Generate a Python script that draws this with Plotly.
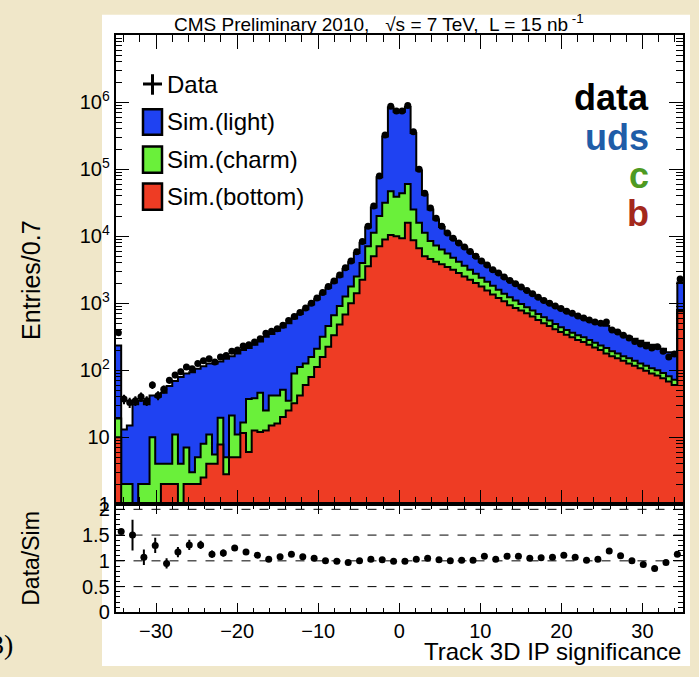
import numpy as np
import plotly.graph_objects as go

W, H = 699, 677

# entries per 0.7 bin, 100 bins from -35 to 35
data_counts = [363, 37, 33, 35, 40, 35, 60, 42, 52, 71,
               85, 95, 112, 105, 126, 138, 148, 132, 158, 166,
               191, 200, 229, 240, 263, 295, 355, 380, 417, 468,
               550, 631, 724, 851, 1000, 1200, 1445, 1778, 2138, 2630,
               3388, 4266, 5888, 8318, 14100, 28200, 79400, 324000, 871000, 741000,
               741000, 891000, 363000, 100000, 43650, 26300, 18600, 14100, 11200, 9330,
               7940, 6920, 5890, 5010, 4270, 3720, 3160, 2820, 2455, 2188,
               1950, 1738, 1549, 1380, 1230, 1096, 1000, 912, 832, 759,
               708, 646, 603, 562, 525, 501, 525, 398, 372, 331,
               302, 269, 245, 229, 214, 224, 191, 158, 174, 2291]

# stack tops: light+charm+bottom, charm+bottom, bottom
sim_total = [234, 13, 15, 31, 35, 31, 42, 40, 46, 58,
             69, 79, 89, 93, 105, 115, 126, 126, 135, 148,
             162, 178, 200, 214, 240, 269, 316, 347, 389, 437,
             501, 589, 692, 813, 955, 1148, 1380, 1698, 2042, 2512,
             3236, 4074, 5623, 7943, 13490, 26900, 75860, 309000, 832000, 724000,
             724000, 851000, 347000, 95500, 41700, 25100, 17800, 13780, 10940, 9120,
             7760, 6760, 5755, 4895, 4170, 3635, 3090, 2755, 2400, 2140,
             1905, 1700, 1515, 1350, 1200, 1070, 977, 891, 813, 741,
             692, 631, 589, 549, 513, 490, 460, 400, 365, 330,
             316, 295, 275, 257, 240, 224, 209, 186, 166, 2042]

sim_charm_bottom = [19, 2, 2, 0, 2, 2, 10, 4, 4, 4,
                    11, 4, 7, 3, 5, 8, 11, 5.5, 19.5, 5,
                    21, 11, 16.6, 37, 38, 46, 25, 42, 42, 51,
                    35, 89, 112, 126, 158, 209, 316, 457, 661, 912,
                    1259, 1778, 2512, 3981, 7079, 11220, 19950, 31600, 46800, 38900,
                    43650, 60260, 25120, 15850, 11220, 8510, 7240, 6310, 5500, 4790,
                    4170, 3630, 3160, 2750, 2400, 2090, 1820, 1585, 1380, 1230,
                    1096, 977, 871, 776, 692, 617, 550, 490, 437, 398,
                    363, 331, 309, 282, 257, 234, 214, 191, 178, 162,
                    151, 138, 126, 117, 107, 100, 91, 81, 72, 794]

sim_bottom = [10, 0, 0, 0, 0, 0, 0, 0, 2, 2,
              2, 0, 2, 2, 2, 2.5, 4, 4, 7.8, 2.8,
              5, 5, 11.5, 6, 12.6, 12, 12.6, 15, 16, 20,
              25, 32, 42, 60, 79, 112, 158, 224, 331, 479,
              676, 1000, 1413, 2239, 3548, 5012, 7079, 8913, 10470, 10000,
              9330, 15850, 8710, 6610, 5010, 4570, 4170, 3800, 3470, 3160,
              2820, 2510, 2240, 2000, 1780, 1550, 1350, 1200, 1070, 933,
              851, 776, 708, 631, 562, 501, 457, 407, 372, 339,
              309, 282, 263, 240, 219, 200, 178, 162, 151, 138,
              126, 117, 107, 98, 89, 83, 76, 68, 60, 759]

# data/sim in 1.4-wide bins
ratio = [1.57, 1.5, 1.07, 1.3, 0.95, 1.17, 1.31, 1.31, 1.13, 1.15,
         1.25, 1.17, 1.11, 1.03, 1.08, 1.13, 1.08, 1.05, 1.0, 0.99,
         0.97, 1.0, 1.03, 1.02, 0.99, 0.99, 1.03, 1.05, 1.02, 1.0,
         1.01, 1.01, 1.09, 1.03, 1.09, 1.09, 1.05, 1.06, 1.07, 1.11,
         1.07, 1.01, 1.03, 1.19, 1.1, 1.0, 0.93, 0.85, 0.97, 1.13]
ratio_err = [0.05, 0.3, 0.15, 0.15, 0.1, 0.1, 0.1, 0.08, 0.07, 0.07,
             0.06, 0.05, 0.04, 0.03, 0.03, 0.03, 0.02, 0.02, 0.02, 0.02,
             0.02, 0.02, 0.02, 0.02, 0.02, 0.02, 0.02, 0.02, 0.02, 0.02,
             0.02, 0.02, 0.02, 0.02, 0.02, 0.02, 0.02, 0.02, 0.02, 0.02,
             0.02, 0.02, 0.02, 0.03, 0.03, 0.03, 0.04, 0.04, 0.04, 0.03]

colors = {'light': '#1f42f2', 'charm': '#6af03a', 'bottom': '#ee3c24'}
FONT = 'Liberation Sans, Arial, sans-serif'

edges = np.linspace(-35, 35, 101)
centers = 0.5 * (edges[:-1] + edges[1:])
ratio_x = np.linspace(-34.3, 34.3, 50)


def step(vals):
    v = np.maximum(np.asarray(vals, dtype=float), 0.05)
    return np.append(v, v[-1])


def px(x):
    return x / W


def py(y):
    return 1 - y / H


fig = go.Figure()

# stacked histogram, drawn as filled step outlines
base = np.full(101, 0.01)
for vals, col in [(sim_total, colors['light']), (sim_charm_bottom, colors['charm']),
                  (sim_bottom, colors['bottom'])]:
    fig.add_trace(go.Scatter(x=edges, y=base, mode='lines', line=dict(width=0),
                             hoverinfo='skip', showlegend=False, xaxis='x', yaxis='y'))
    fig.add_trace(go.Scatter(x=edges, y=step(vals), mode='lines', line_shape='hv',
                             line=dict(color='black', width=2), fill='tonexty',
                             fillcolor=col, showlegend=False, xaxis='x', yaxis='y'))

fig.add_trace(go.Scatter(
    x=centers, y=data_counts, mode='markers',
    marker=dict(color='black', size=7),
    error_y=dict(type='data', array=np.sqrt(data_counts), color='black', thickness=2, width=0),
    showlegend=False, xaxis='x', yaxis='y'
))

fig.add_trace(go.Scatter(
    x=ratio_x, y=ratio, mode='markers',
    marker=dict(color='black', size=7),
    error_y=dict(type='data', array=ratio_err, color='black', thickness=2, width=0),
    showlegend=False, xaxis='x2', yaxis='y2'
))

xdom = [px(115.5), px(683)]
axis_common = dict(showline=True, linecolor='black', linewidth=1.5, mirror='ticks',
                   ticks='inside', tickcolor='black', showgrid=False, zeroline=False,
                   tickfont=dict(family=FONT, size=20, color='black'))

minor_log = [m * 10 ** k for k in range(7) for m in range(2, 10)]

fig.update_layout(
    width=W, height=H,
    margin=dict(l=0, r=0, t=0, b=0),
    paper_bgcolor='#f0e7c9',
    plot_bgcolor='white',
    showlegend=False,
    xaxis=dict(domain=xdom, range=[-35, 35], anchor='y', showticklabels=False,
               tick0=0, dtick=10, ticklen=14, tickwidth=1,
               minor=dict(ticks='inside', tick0=0, dtick=2, ticklen=7, tickcolor='black'),
               **axis_common),
    yaxis=dict(domain=[py(511), py(30)], type='log', range=[0, 7], anchor='x',
               tickmode='array', tickvals=[1, 10, 1e2, 1e3, 1e4, 1e5, 1e6],
               ticktext=['1', '10', '10<sup>2</sup>', '10<sup>3</sup>', '10<sup>4</sup>',
                         '10<sup>5</sup>', '10<sup>6</sup>'],
               ticklen=14, tickwidth=1,
               minor=dict(ticks='inside', tickmode='array', tickvals=minor_log,
                          ticklen=7, tickcolor='black'),
               **axis_common),
    xaxis2=dict(domain=xdom, range=[-35, 35], anchor='y2', tick0=0, dtick=10,
                ticklen=10, tickwidth=1,
                minor=dict(ticks='inside', tick0=0, dtick=2, ticklen=5, tickcolor='black'),
                **axis_common),
    yaxis2=dict(domain=[py(622), py(511)], range=[0, 2.1], anchor='x2',
                tickmode='array', tickvals=[0, 0.5, 1, 1.5, 2],
                ticktext=['0', '0.5', '1', '1.5', '2'], ticklen=10, tickwidth=1,
                minor=dict(ticks='inside', dtick=0.1, ticklen=5, tickcolor='black'),
                **axis_common),
)

shapes = [
    # white page behind the figure
    dict(type='rect', xref='paper', yref='paper', x0=px(102), x1=px(690), y0=0, y1=py(9),
         fillcolor='white', line=dict(width=0), layer='below'),
]
for lvl in [0.5, 1, 1.5, 2]:
    shapes.append(dict(type='line', xref='x2 domain', yref='y2', x0=0, x1=1, y0=lvl, y1=lvl,
                       line=dict(color='black', width=1, dash='dash')))

# legend
shapes.append(dict(type='line', xref='paper', yref='paper', x0=px(143), x1=px(162),
                   y0=py(80), y1=py(80), line=dict(color='black', width=3)))
shapes.append(dict(type='line', xref='paper', yref='paper', x0=px(152.5), x1=px(152.5),
                   y0=py(70), y1=py(91), line=dict(color='black', width=3)))
for (top, bot), col in zip([(106, 132), (144, 171), (182, 209)],
                           [colors['light'], colors['charm'], colors['bottom']]):
    shapes.append(dict(type='rect', xref='paper', yref='paper', x0=px(143), x1=px(162),
                       y0=py(bot), y1=py(top), fillcolor=col,
                       line=dict(color='black', width=2.5)))
fig.update_layout(shapes=shapes)


def ann(text, x, y, size, color='black', xanchor='center', angle=0, bold=False, family=FONT):
    if bold:
        text = '<b>' + text + '</b>'
    return dict(text=text, x=px(x), y=py(y), xref='paper', yref='paper', showarrow=False,
                xanchor=xanchor, yanchor='middle', textangle=angle,
                font=dict(family=family, size=size, color=color))


annotations = [
    ann('CMS Preliminary 2010,   \u221as = 7 TeV,  L = 15 nb<sup> -1</sup>', 379, 17, 19),
    ann('Entries/0.7', 31, 281, 25, angle=-90),
    ann('Data/Sim', 31, 567, 23, angle=-90),
    ann('Track 3D IP significance', 683, 662, 24, xanchor='right'),
    ann('Data', 165, 81, 24, xanchor='left'),
    ann('Sim.(light)', 165, 118, 24, xanchor='left'),
    ann('Sim.(charm)', 165, 157, 24, xanchor='left'),
    ann('Sim.(bottom)', 165, 195, 24, xanchor='left'),
    ann('data', 651, 94, 36, bold=True, xanchor='right'),
    ann('uds', 651, 135, 36, color='#1f5da8', bold=True, xanchor='right'),
    ann('c', 651, 174, 36, color='#4e9a22', bold=True, xanchor='right'),
    ann('b', 651, 213, 36, color='#a3281c', bold=True, xanchor='right'),
    # caption fragment cut by the left border
    ann('3)', 15, 655, 28, xanchor='right', family='Liberation Serif, serif'),
]
fig.update_layout(annotations=annotations)

# drop the default page margin so the figure sits at the window's corner
fig.write_html("out.html", config={'displayModeBar': False},
               post_script="document.body.style.margin='0';")
